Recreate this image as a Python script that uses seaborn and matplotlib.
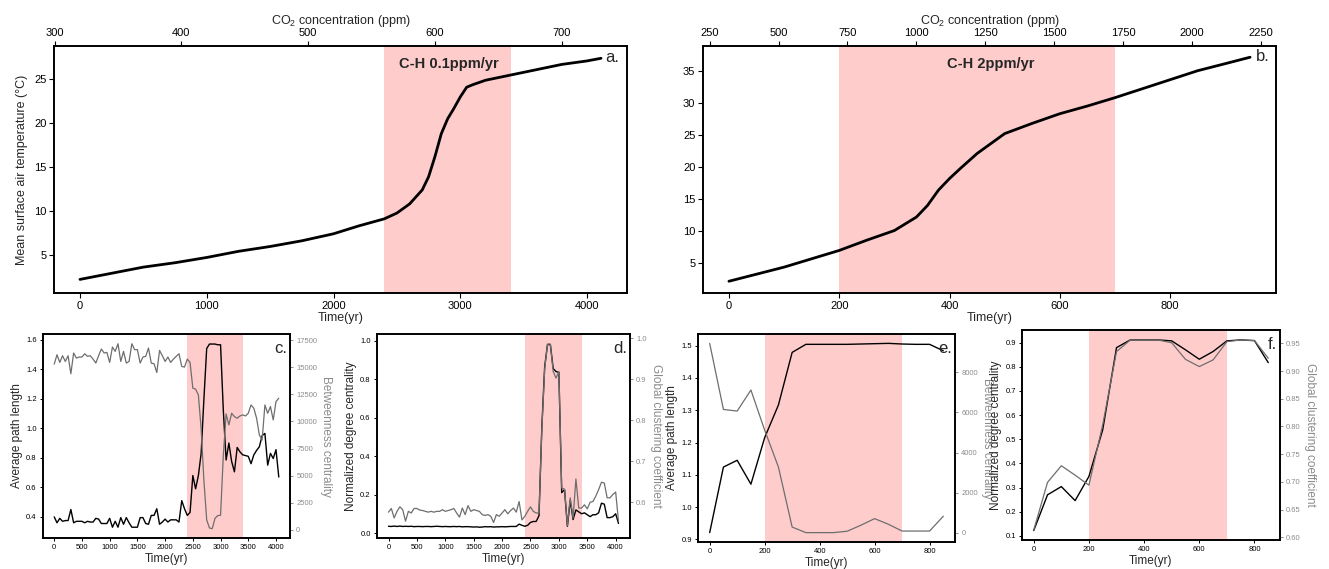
import numpy as np
import pandas as pd
import matplotlib
matplotlib.use("Agg")
import matplotlib.pyplot as plt
import seaborn as sns

sns.set_theme(style="ticks")
plt.rcParams['font.family'] = ['Liberation Sans', 'DejaVu Sans']
plt.rcParams['mathtext.fontset'] = 'custom'
plt.rcParams['mathtext.rm'] = 'Liberation Sans'
plt.rcParams['axes.edgecolor'] = 'black'
plt.rcParams['axes.linewidth'] = 1.2
plt.rcParams['xtick.color'] = 'black'
plt.rcParams['ytick.color'] = 'black'

# ---------------- data ----------------
co2_start = 320
rate_a = 0.1   # ppm/yr
rate_b = 2.0   # ppm/yr

time_a = [0, 250, 500, 750, 1000, 1250, 1500, 1750, 2000, 2200, 2400, 2500, 2600, 2650, 2700,
          2750, 2800, 2850, 2900, 2950, 3000, 3050, 3100, 3200, 3300, 3400, 3600, 3800, 4000, 4110]
temp_a = [2.2, 2.9, 3.6, 4.1, 4.7, 5.4, 5.95, 6.6, 7.4, 8.3, 9.1, 9.76, 10.8, 11.6, 12.4,
          13.9, 16.2, 18.8, 20.5, 21.7, 23.0, 24.1, 24.4, 24.9, 25.2, 25.5, 26.1, 26.7, 27.1, 27.4]

time_b = [0, 50, 100, 150, 200, 250, 300, 340, 360, 380, 400, 420, 450, 500, 550, 600, 650,
          700, 750, 800, 850, 900, 945]
temp_b = [2.2, 3.3, 4.4, 5.7, 7.0, 8.6, 10.1, 12.2, 14.0, 16.4, 18.2, 19.8, 22.1, 25.2, 26.8,
          28.3, 29.5, 30.8, 32.2, 33.6, 35.0, 36.1, 37.1]

time_cd = list(range(0, 4051, 50))
path_c = [0.40, 0.36, 0.39, 0.37, 0.375, 0.375, 0.45, 0.36, 0.37, 0.37,
          0.37, 0.36, 0.37, 0.365, 0.365, 0.39, 0.385, 0.355, 0.355, 0.355,
          0.39, 0.33, 0.37, 0.33, 0.395, 0.35, 0.395, 0.36, 0.33, 0.33,
          0.33, 0.395, 0.395, 0.355, 0.35, 0.41, 0.41, 0.455, 0.35, 0.365,
          0.385, 0.365, 0.38, 0.38, 0.38, 0.365, 0.51, 0.455, 0.41, 0.43,
          0.68, 0.59, 0.68, 0.83, 1.2, 1.54, 1.57, 1.57, 1.57, 1.565,
          1.565, 1.12, 0.785, 0.90, 0.775, 0.705, 0.87, 0.84, 0.82, 0.815,
          0.81, 0.76, 0.82, 0.85, 0.875, 0.95, 0.965, 0.75, 0.83, 0.795,
          0.855, 0.67]
betw_c = [15300, 16170, 15460, 16080, 15550, 16080, 14410, 16330, 15860, 15960,
          15960, 16260, 16020, 16080, 15770, 15400, 16080, 16700, 16330, 16390,
          15460, 16880, 16480, 17190, 15550, 16480, 15400, 15550, 17190, 16640,
          16640, 15400, 15960, 16020, 16790, 15400, 15340, 14530, 16570, 16080,
          15550, 15960, 15460, 15770, 16020, 16260, 15090, 15030, 15770, 15460,
          13080, 12990, 12450, 9300, 4500, 900, 150, 90, 1050, 1300,
          1330, 6900, 10700, 9680, 10760, 10450, 10300, 10510, 10610, 10510,
          10760, 11530, 11220, 10300, 8750, 8290, 11530, 10760, 11380, 10140,
          11840, 12150]
degree_d = [0.035, 0.034, 0.036, 0.034, 0.036, 0.034, 0.035, 0.034, 0.035, 0.033,
            0.034, 0.034, 0.033, 0.034, 0.034, 0.033, 0.034, 0.035, 0.034, 0.033,
            0.034, 0.033, 0.033, 0.034, 0.033, 0.034, 0.032, 0.033, 0.033, 0.032,
            0.031, 0.032, 0.030, 0.031, 0.033, 0.032, 0.033, 0.031, 0.032, 0.032,
            0.033, 0.032, 0.033, 0.034, 0.034, 0.034, 0.046, 0.040, 0.035, 0.040,
            0.055, 0.060, 0.060, 0.090, 0.550, 0.865, 0.980, 0.980, 0.855, 0.840,
            0.835, 0.210, 0.225, 0.035, 0.170, 0.070, 0.120, 0.110, 0.100, 0.105,
            0.095, 0.085, 0.095, 0.095, 0.105, 0.155, 0.150, 0.080, 0.080, 0.085,
            0.100, 0.050]
clust_d = [0.576, 0.585, 0.562, 0.578, 0.589, 0.582, 0.554, 0.578, 0.574, 0.585,
           0.585, 0.581, 0.580, 0.578, 0.576, 0.578, 0.576, 0.578, 0.578, 0.582,
           0.578, 0.580, 0.582, 0.585, 0.574, 0.564, 0.586, 0.570, 0.592, 0.578,
           0.582, 0.580, 0.578, 0.570, 0.568, 0.570, 0.566, 0.551, 0.570, 0.566,
           0.574, 0.582, 0.572, 0.580, 0.586, 0.576, 0.602, 0.557, 0.566, 0.578,
           0.589, 0.578, 0.574, 0.574, 0.777, 0.925, 0.986, 0.986, 0.919, 0.903,
           0.919, 0.635, 0.632, 0.543, 0.611, 0.562, 0.657, 0.586, 0.586, 0.594,
           0.584, 0.600, 0.602, 0.615, 0.631, 0.649, 0.647, 0.611, 0.611, 0.619,
           0.625, 0.554]

time_ef = list(range(0, 851, 50))
path_e = [0.921, 1.124, 1.145, 1.071, 1.215, 1.316, 1.479, 1.504, 1.504, 1.504, 1.504,
          1.505, 1.506, 1.507, 1.505, 1.504, 1.504, 1.484]
betw_e = [9450, 6150, 6070, 7120, 5120, 3280, 280, 0, 0, 0, 70, 370, 700, 420, 80, 80, 80, 820]
degree_f = [0.122, 0.270, 0.304, 0.246, 0.346, 0.539, 0.879, 0.911, 0.911, 0.911, 0.907,
            0.870, 0.831, 0.863, 0.907, 0.911, 0.908, 0.817]
clust_f = [0.613, 0.699, 0.729, 0.712, 0.694, 0.803, 0.935, 0.956, 0.956, 0.956, 0.951,
           0.921, 0.908, 0.920, 0.953, 0.956, 0.955, 0.923]

span_a = (2400, 3400)
span_b = (200, 700)

# ---------------- styling ----------------
SPAN = dict(color='red', alpha=0.2, lw=0, zorder=0)
GREY_LINE = '#6e6e6e'
GREY_TXT = '#8c8c8c'

W, H = 1329, 569
fig = plt.figure(figsize=(W / 100, H / 100), dpi=100)

def rect(l, r, t, b):
    return [l / W, (H - b) / H, (r - l) / W, (b - t) / H]

# ---------------- top panels ----------------
def top_panel(box, t, temp, span, rate, xlim, ylim, xticks, co2ticks, title, title_xy, letter, letter_xy, ylabel):
    ax = fig.add_axes(rect(*box))
    ax.axvspan(*span, **SPAN)
    df = pd.DataFrame({'t': t, 'T': temp})
    sns.lineplot(data=df, x='t', y='T', ax=ax, color='black', lw=2.0, estimator=None)
    ax.set_xlim(*xlim)
    ax.set_ylim(*ylim)
    ax.set_xticks(xticks)
    ax.tick_params(labelsize=8, length=3.5, width=0.8, pad=2)
    ax.set_xlabel('Time(yr)', fontsize=9, labelpad=1)
    ax.set_ylabel(ylabel, fontsize=9)
    ax.text(*title_xy, title, fontsize=10.5, fontweight='bold', ha='center', va='center')
    ax.text(*letter_xy, letter, fontsize=12, ha='left', va='center')
    top = ax.twiny()
    top.set_xlim(co2_start + rate * xlim[0], co2_start + rate * xlim[1])
    top.set_xticks(co2ticks)
    top.tick_params(labelsize=8, length=3.5, width=0.8, pad=2)
    top.set_xlabel(r'CO$_\mathregular{2}$ concentration (ppm)', fontsize=9, labelpad=3)
    return ax

top_panel((54, 627, 46, 293), time_a, temp_a, span_a, rate_a, (-205, 4315), (0.65, 28.8),
          [0, 1000, 2000, 3000, 4000], [300, 400, 500, 600, 700],
          'C-H 0.1ppm/yr', (2910, 26.7), 'a.', (4140, 27.5),
          'Mean surface air temperature (°C)')
top_panel((703, 1276, 46, 293), time_b, temp_b, span_b, rate_b, (-47, 992), (0.37, 38.85),
          [0, 200, 400, 600, 800], list(range(250, 2251, 250)),
          'C-H 2ppm/yr', (475, 36.0), 'b.', (955, 37.2), None)

# ---------------- bottom panels ----------------
def bottom_panel(box, t, y1, y2, span, xlim, yl1, yl2, xticks, yt1, yt2, lab1, lab2, letter, lfmt=None, rfmt=None):
    ax = fig.add_axes(rect(*box))
    ax.axvspan(*span, **SPAN)
    df = pd.DataFrame({'t': t, 'a': y1, 'b': y2})
    sns.lineplot(data=df, x='t', y='a', ax=ax, color='black', lw=1.0, estimator=None)
    ax.set_xlim(*xlim)
    ax.set_ylim(*yl1)
    ax.set_xticks(xticks)
    ax.set_yticks(yt1)
    if lfmt:
        ax.set_yticklabels([lfmt.format(v) for v in yt1])
    ax.tick_params(labelsize=5.5, length=2.5, width=0.7, pad=2)
    ax.set_xlabel('Time(yr)', fontsize=8.5, labelpad=1)
    ax.set_ylabel(lab1, fontsize=8.5, labelpad=2)
    ax2 = ax.twinx()
    sns.lineplot(data=df, x='t', y='b', ax=ax2, color=GREY_LINE, lw=0.9, estimator=None)
    ax2.set_ylim(*yl2)
    ax2.set_yticks(yt2)
    if rfmt:
        ax2.set_yticklabels([rfmt.format(v) for v in yt2])
    ax2.tick_params(axis='y', labelsize=5.5, length=2.5, width=0.7, pad=2,
                    colors=GREY_TXT)
    ax2.set_ylabel(lab2, fontsize=8.5, color=GREY_TXT, rotation=270, va='bottom', labelpad=2)
    ax2.spines['right'].set_color('black')
    ax2.text(0.988, 0.965, letter, transform=ax2.transAxes, fontsize=12,
             ha='right', va='top')
    return ax

bottom_panel((43, 290, 334, 538), time_cd, path_c, betw_c, span_a, (-202.5, 4252.5),
             (0.257, 1.638), (-773, 18088), list(range(0, 4001, 500)),
             [0.4, 0.6, 0.8, 1.0, 1.2, 1.4, 1.6], list(range(0, 17501, 2500)),
             'Average path length', 'Betweenness centrality', 'c.', lfmt='{:.1f}')
bottom_panel((377, 630, 334, 538), time_cd, degree_d, clust_d, span_a, (-202.5, 4252.5),
             (-0.026, 1.035), (0.513, 1.0105), list(range(0, 4001, 500)),
             [0.0, 0.2, 0.4, 0.6, 0.8, 1.0], [0.6, 0.7, 0.8, 0.9, 1.0],
             'Normalized degree centrality', 'Global clustering coefficient', 'd.',
             lfmt='{:.1f}', rfmt='{:.1f}')
bottom_panel((698, 955, 334, 542), time_ef, path_e, betw_e, span_b, (-42.5, 892.5),
             (0.892, 1.536), (-467, 9917), [0, 200, 400, 600, 800],
             [0.9, 1.0, 1.1, 1.2, 1.3, 1.4, 1.5], [0, 2000, 4000, 6000, 8000],
             'Average path length', 'Betweenness centrality', 'e.', lfmt='{:.1f}')
bottom_panel((1022, 1280, 330, 540), time_ef, degree_f, clust_f, span_b, (-42.5, 892.5),
             (0.083, 0.952), (0.595, 0.974), [0, 200, 400, 600, 800],
             [0.1, 0.2, 0.3, 0.4, 0.5, 0.6, 0.7, 0.8, 0.9],
             [0.60, 0.65, 0.70, 0.75, 0.80, 0.85, 0.90, 0.95],
             'Normalized degree centrality', 'Global clustering coefficient', 'f.',
             lfmt='{:.1f}', rfmt='{:.2f}')

fig.savefig('out.png', dpi=100)
